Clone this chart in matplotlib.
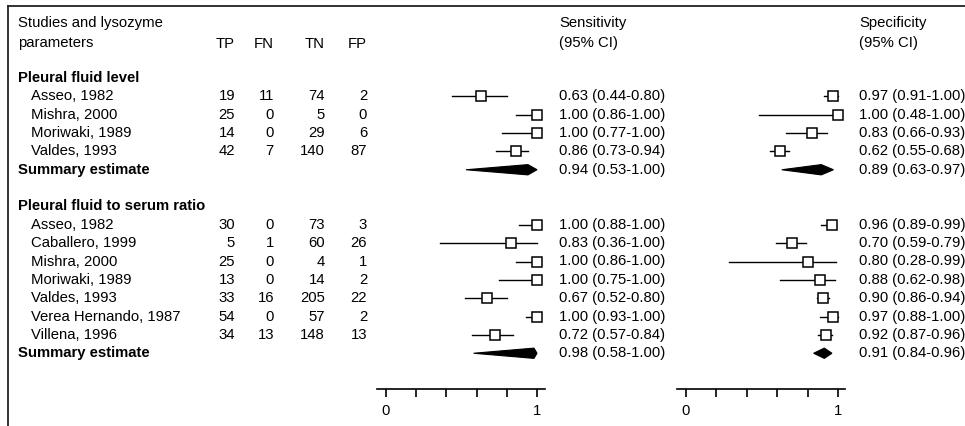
import numpy as np
import matplotlib
matplotlib.use('Agg')
import matplotlib.pyplot as plt
from matplotlib.patches import Polygon

plt.rcParams['font.family'] = ['Liberation Sans', 'DejaVu Sans']
FS = 10.7

# ---- data ----
level_studies = ['Asseo, 1982', 'Mishra, 2000', 'Moriwaki, 1989', 'Valdes, 1993']
level_tp = [19, 25, 14, 42]
level_fn = [11, 0, 0, 7]
level_tn = [74, 5, 29, 140]
level_fp = [2, 0, 6, 87]
level_sens = [0.63, 1.00, 1.00, 0.86]
level_sens_lo = [0.44, 0.86, 0.77, 0.73]
level_sens_hi = [0.80, 1.00, 1.00, 0.94]
level_spec = [0.97, 1.00, 0.83, 0.62]
level_spec_lo = [0.91, 0.48, 0.66, 0.55]
level_spec_hi = [1.00, 1.00, 0.93, 0.68]
level_sum_sens = (0.94, 0.53, 1.00)
level_sum_spec = (0.89, 0.63, 0.97)

ratio_studies = ['Asseo, 1982', 'Caballero, 1999', 'Mishra, 2000', 'Moriwaki, 1989',
                 'Valdes, 1993', 'Verea Hernando, 1987', 'Villena, 1996']
ratio_tp = [30, 5, 25, 13, 33, 54, 34]
ratio_fn = [0, 1, 0, 0, 16, 0, 13]
ratio_tn = [73, 60, 4, 14, 205, 57, 148]
ratio_fp = [3, 26, 1, 2, 22, 2, 13]
ratio_sens = [1.00, 0.83, 1.00, 1.00, 0.67, 1.00, 0.72]
ratio_sens_lo = [0.88, 0.36, 0.86, 0.75, 0.52, 0.93, 0.57]
ratio_sens_hi = [1.00, 1.00, 1.00, 1.00, 0.80, 1.00, 0.84]
ratio_spec = [0.96, 0.70, 0.80, 0.88, 0.90, 0.97, 0.92]
ratio_spec_lo = [0.89, 0.59, 0.28, 0.62, 0.86, 0.88, 0.87]
ratio_spec_hi = [0.99, 0.79, 0.99, 0.98, 0.94, 1.00, 0.96]
ratio_sum_sens = (0.98, 0.58, 1.00)
ratio_sum_spec = (0.91, 0.84, 0.96)

sections = [
    ('Pleural fluid level', level_studies, level_tp, level_fn, level_tn, level_fp,
     (level_sens, level_sens_lo, level_sens_hi), (level_spec, level_spec_lo, level_spec_hi),
     level_sum_sens, level_sum_spec),
    ('Pleural fluid to serum ratio', ratio_studies, ratio_tp, ratio_fn, ratio_tn, ratio_fp,
     (ratio_sens, ratio_sens_lo, ratio_sens_hi), (ratio_spec, ratio_spec_lo, ratio_spec_hi),
     ratio_sum_sens, ratio_sum_spec),
]

# ---- layout (pixels) ----
W, H = 965, 426
ROW0, DROW = 78.0, 18.35          # pixel y of row 0 and row spacing
AX_TOP, AX_BOT = 6.0, 389.3       # forest axes vertical extent (axis line at bottom)

def row_y(r):
    return ROW0 + r * DROW

fig = plt.figure(figsize=(W / 100, H / 100), dpi=100)
bg = fig.add_axes([0, 0, 1, 1])
bg.set_xlim(0, W)
bg.set_ylim(H, 0)
bg.axis('off')

# frame lines (top and left)
bg.plot([8, W], [6, 6], color='#222222', lw=1.3)
bg.plot([8, 8], [6, H], color='#222222', lw=1.3)

def forest_axes(x_left, x_zero, x_one, x_right):
    scale = x_one - x_zero
    ax = fig.add_axes([x_left / W, 1 - AX_BOT / H, (x_right - x_left) / W, (AX_BOT - AX_TOP) / H])
    ax.set_xlim((x_left - x_zero) / scale, (x_right - x_zero) / scale)
    ax.set_ylim((AX_BOT - ROW0) / DROW, (AX_TOP - ROW0) / DROW)
    for s in ['top', 'right', 'left']:
        ax.spines[s].set_visible(False)
    ax.spines['bottom'].set_linewidth(1.2)
    ax.patch.set_alpha(0)
    ax.set_yticks([])
    ax.set_xticks(np.linspace(0, 1, 6))
    ax.set_xticklabels(['0', '', '', '', '', '1'])
    ax.tick_params(axis='x', direction='out', length=5.5, width=1.2, pad=5, labelsize=FS)
    return ax

ax_sens = forest_axes(377, 386, 537, 545)
ax_spec = forest_axes(677, 686, 838, 845)

# headers
hdr1, hdr2 = 23.5, 43.5
bg.text(18, hdr1, 'Studies and lysozyme', fontsize=FS, va='center')
bg.text(18, hdr2, 'parameters', fontsize=FS, va='center')
col_x = [235, 274, 325, 367]
for x, lab in zip(col_x, ['TP', 'FN', 'TN', 'FP']):
    bg.text(x, hdr2, lab, fontsize=FS, va='center', ha='right')
bg.text(559, hdr1, 'Sensitivity', fontsize=FS, va='center')
bg.text(559, hdr2, '(95% CI)', fontsize=FS, va='center')
bg.text(859, hdr1, 'Specificity', fontsize=FS, va='center')
bg.text(859, hdr2, '(95% CI)', fontsize=FS, va='center')

def fmt(e, lo, hi):
    return f'{e:.2f} ({lo:.2f}-{hi:.2f})'

def summary_shape(ax, est, lo, hi, r):
    h = 0.28
    poly = Polygon([(lo, r), (est, r - h), (hi, r), (est, r + h)], closed=True,
                   facecolor='black', edgecolor='black', lw=0.8)
    ax.add_patch(poly)

r = 0
for (title, studies, tp, fn, tn, fp, sens, spec, s_sens, s_spec) in sections:
    bg.text(18, row_y(r), title, fontsize=FS, fontweight='bold', va='center')
    r += 1
    for i, name in enumerate(studies):
        y = row_y(r)
        bg.text(31, y, name, fontsize=FS, va='center')
        for x, v in zip(col_x, [tp[i], fn[i], tn[i], fp[i]]):
            bg.text(x, y, str(v), fontsize=FS, va='center', ha='right')
        for ax, (est, lo, hi), tx in [(ax_sens, sens, 559), (ax_spec, spec, 859)]:
            ax.plot([lo[i], hi[i]], [r, r], color='black', lw=1.0, zorder=2)
            ax.plot(est[i], r, marker='s', ms=7.3, mfc='white', mec='black', mew=1.1,
                    zorder=3, clip_on=False)
            bg.text(tx, y, fmt(est[i], lo[i], hi[i]), fontsize=FS, va='center')
        r += 1
    y = row_y(r)
    bg.text(18, y, 'Summary estimate', fontsize=FS, fontweight='bold', va='center')
    summary_shape(ax_sens, *s_sens, r)
    summary_shape(ax_spec, *s_spec, r)
    bg.text(559, y, fmt(*s_sens), fontsize=FS, va='center')
    bg.text(859, y, fmt(*s_spec), fontsize=FS, va='center')
    r += 2

fig.savefig('out.png', dpi=100, facecolor='white')
